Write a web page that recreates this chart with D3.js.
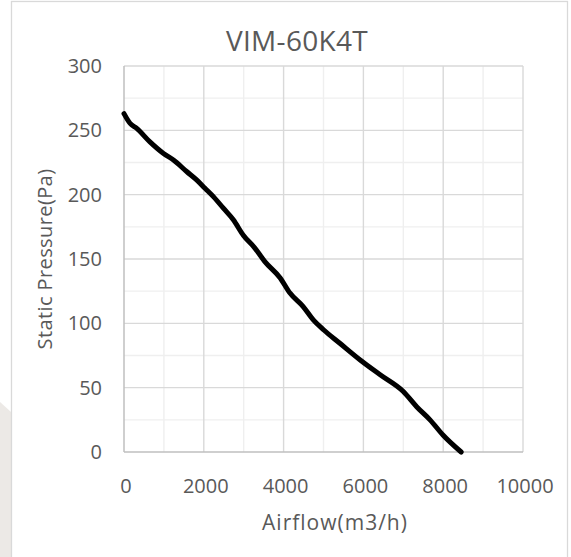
<!DOCTYPE html>
<html>
<head>
<meta charset="utf-8">
<script src="https://cdn.jsdelivr.net/npm/d3@7"></script>
<style>
  html, body { margin: 0; padding: 0; background: #ffffff; }
  svg { display: block; }
  text { font-family: "Open Sans", "Liberation Sans", sans-serif; fill: #595959; }
</style>
</head>
<body>
<svg id="chart" width="571" height="557"></svg>
<script>
const title = "VIM-60K4T";
const xTitle = "Airflow(m3/h)";
const yTitle = "Static Pressure(Pa)";
const xTicks = [0, 2000, 4000, 6000, 8000, 10000];
const yTicks = [0, 50, 100, 150, 200, 250, 300];
const xMinor = [1000, 3000, 5000, 7000, 9000];
const yMinor = [25, 75, 125, 175, 225, 275];
const airflow = [0, 150, 320, 650, 990, 1240, 1570, 1820, 2030, 2240, 2490, 2740, 2990, 3280, 3530, 3910, 4160, 4490, 4750, 5000, 5410, 5920, 6420, 7000, 7340, 7670, 8000, 8450];
const pressure = [263, 255.5, 251.5, 241, 232, 227, 218, 211.5, 205, 198.5, 189.5, 180.5, 168.5, 158.5, 148, 135.5, 123.5, 113, 102.5, 95, 84.5, 71.5, 60, 47, 35, 25, 13, 0];

const svg = d3.select("#chart");
const plot = { left: 124, right: 523, top: 66, bottom: 452 };

// faint watermark strip on the far left
svg.append("path")
  .attr("d", "M0,402 L11,412 L11,557 L0,557 Z")
  .attr("fill", "#ece9e6");

// outer chart border
svg.append("rect")
  .attr("x", 11.5).attr("y", 1.5)
  .attr("width", 556).attr("height", 570)
  .attr("fill", "#ffffff")
  .attr("stroke", "#d9d9d9").attr("stroke-width", 1.3);

const x = d3.scaleLinear().domain([0, 10000]).range([plot.left, plot.right]);
const y = d3.scaleLinear().domain([0, 300]).range([plot.bottom, plot.top]);

// minor gridlines
const g = svg.append("g");
g.selectAll(".xminor").data(xMinor).join("line")
  .attr("x1", d => x(d)).attr("x2", d => x(d))
  .attr("y1", plot.top).attr("y2", plot.bottom)
  .attr("stroke", "#efefef").attr("stroke-width", 1.4);
g.selectAll(".yminor").data(yMinor).join("line")
  .attr("x1", plot.left).attr("x2", plot.right)
  .attr("y1", d => y(d)).attr("y2", d => y(d))
  .attr("stroke", "#efefef").attr("stroke-width", 1.4);

// major gridlines
g.selectAll(".xmajor").data(xTicks.filter(d => d > 0)).join("line")
  .attr("x1", d => x(d)).attr("x2", d => x(d))
  .attr("y1", plot.top).attr("y2", plot.bottom)
  .attr("stroke", "#d9d9d9").attr("stroke-width", 1.4);
g.selectAll(".ymajor").data(yTicks.filter(d => d > 0)).join("line")
  .attr("x1", plot.left).attr("x2", plot.right)
  .attr("y1", d => y(d)).attr("y2", d => y(d))
  .attr("stroke", "#d9d9d9").attr("stroke-width", 1.4);

// axes lines
svg.append("line")
  .attr("x1", plot.left).attr("x2", plot.left)
  .attr("y1", plot.top).attr("y2", plot.bottom)
  .attr("stroke", "#bfbfbf").attr("stroke-width", 1.5);
svg.append("line")
  .attr("x1", plot.left).attr("x2", plot.right)
  .attr("y1", plot.bottom).attr("y2", plot.bottom)
  .attr("stroke", "#bfbfbf").attr("stroke-width", 1.5);

// tick labels
svg.selectAll(".xt").data(xTicks).join("text")
  .attr("x", d => x(d) + 2).attr("y", 493)
  .attr("text-anchor", "middle")
  .attr("font-size", 20)
  .text(d => d);
svg.selectAll(".yt").data(yTicks).join("text")
  .attr("x", 102).attr("y", d => y(d) + 7)
  .attr("text-anchor", "end")
  .attr("font-size", 20)
  .text(d => d);

// curve
const line = d3.line().x(d => x(d[0])).y(d => y(d[1])).curve(d3.curveMonotoneX);
const pts = airflow.map((a, i) => [a, pressure[i]]);
svg.append("path")
  .datum(pts)
  .attr("d", line)
  .attr("fill", "none")
  .attr("stroke", "#000000")
  .attr("stroke-width", 5)
  .attr("stroke-linejoin", "round")
  .attr("stroke-linecap", "round");

// titles
svg.append("text")
  .attr("x", 297).attr("y", 51)
  .attr("text-anchor", "middle")
  .attr("font-size", 28)
  .attr("letter-spacing", 0.3)
  .text(title);
svg.append("text")
  .attr("x", 335).attr("y", 530)
  .attr("text-anchor", "middle")
  .attr("font-size", 21)
  .attr("letter-spacing", 1)
  .text(xTitle);
svg.append("text")
  .attr("transform", "translate(52,259) rotate(-90)")
  .attr("text-anchor", "middle")
  .attr("font-size", 20)
  .attr("letter-spacing", 0.4)
  .text(yTitle);
</script>
</body>
</html>
